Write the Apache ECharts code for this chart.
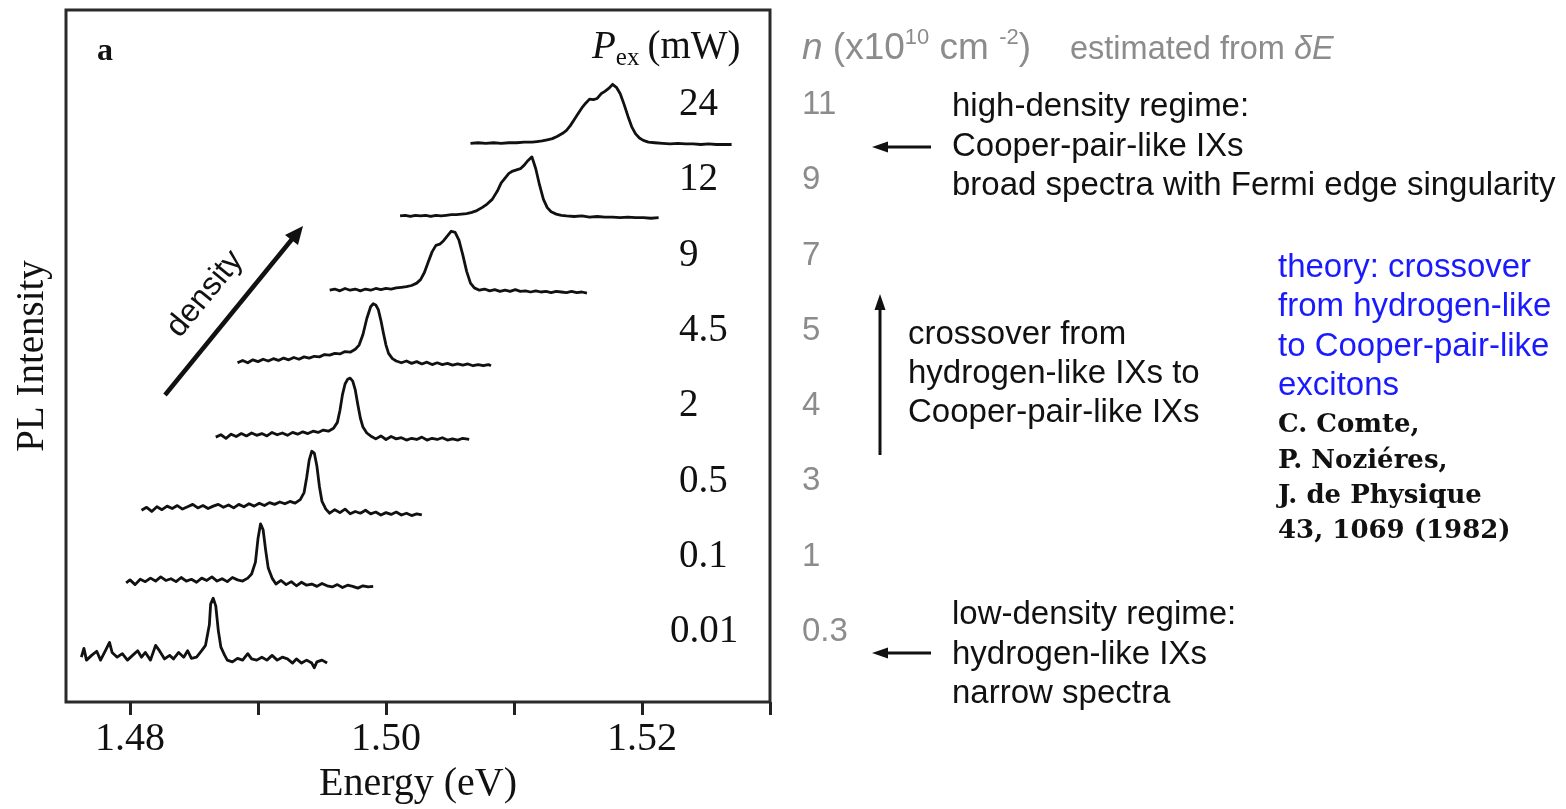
<!DOCTYPE html>
<html><head><meta charset="utf-8">
<script src="https://cdn.jsdelivr.net/npm/echarts@6/dist/echarts.min.js"></script>
<style>html,body{margin:0;padding:0;background:#fff}#c{width:1566px;height:809px}</style>
</head><body><div id="c"></div>
<script>
// ---- data (energy in eV, PL intensity normalised to peak = 1) ----
const energyTicks = [1.48, 1.49, 1.50, 1.51, 1.52, 1.53];
const energyLabels = [1.48, 1.50, 1.52];
const powers = ['0.01', '0.1', '0.5', '2', '4.5', '9', '12', '24'];
const densities = ['0.3', '1', '3', '4', '5', '7', '9', '11'];
const offsets = [0.76, 2.02, 3.25, 4.49, 5.75, 6.98, 8.24, 9.47];

const spec001 = [[1.4762,0],[1.4764,0.15],[1.4766,-0.05],[1.4770,0.03],[1.4774,0.1],[1.4777,-0.05],[1.4781,0.12],[1.4784,0.25],[1.4786,0.08],[1.4790,0],[1.4794,0.06],[1.4798,-0.05],[1.4802,0.03],[1.4806,0.11],[1.4809,0],[1.4812,0.08],[1.4816,-0.05],[1.4820,0.2],[1.4823,0.11],[1.4827,-0.03],[1.4831,0.03],[1.4834,-0.03],[1.4838,0.08],[1.4842,0],[1.4845,0.11],[1.4848,-0.02],[1.4852,0],[1.4856,0.11],[1.4859,0.2],[1.4862,0.55],[1.4863,0.9],[1.4865,1.0],[1.4867,0.87],[1.4869,0.45],[1.4871,0.17],[1.4874,0.03],[1.4876,-0.05],[1.4880,-0.08],[1.4884,-0.02],[1.4888,-0.05],[1.4892,0.06],[1.4895,-0.03],[1.4899,-0.05],[1.4903,0],[1.4907,-0.05],[1.4911,0.03],[1.4915,-0.05],[1.4919,0],[1.4923,-0.03],[1.4927,-0.1],[1.4930,-0.03],[1.4934,-0.1],[1.4938,-0.05],[1.4942,-0.1],[1.4944,-0.18],[1.4946,-0.08],[1.4950,-0.05],[1.4954,-0.1]];
const spec01 = [[1.4797,0],[1.4800,0.05],[1.4804,-0.03],[1.4808,0.06],[1.4812,0.02],[1.4816,0.08],[1.4820,0.03],[1.4824,0.1],[1.4828,0.04],[1.4832,0.07],[1.4836,0.02],[1.4840,0.09],[1.4844,0.03],[1.4848,0.06],[1.4852,0.01],[1.4856,0.08],[1.4860,0.04],[1.4864,0.1],[1.4868,0.03],[1.4872,0.07],[1.4876,0.02],[1.4880,0.09],[1.4884,0.05],[1.4888,0.03],[1.4892,0.08],[1.4895,0.15],[1.4898,0.35],[1.4900,0.75],[1.4902,1.0],[1.4904,0.9],[1.4906,0.55],[1.4908,0.25],[1.4911,0.08],[1.4914,-0.02],[1.4918,0.04],[1.4922,-0.03],[1.4926,0.02],[1.4930,-0.05],[1.4934,0.01],[1.4938,-0.04],[1.4942,-0.02],[1.4946,-0.06],[1.4950,-0.01],[1.4954,-0.05],[1.4958,-0.07],[1.4962,-0.03],[1.4966,-0.08],[1.4970,-0.04],[1.4974,-0.06],[1.4978,-0.09],[1.4982,-0.05],[1.4986,-0.07],[1.4990,-0.06]];
const spec05 = [[1.4809,0],[1.4813,0.05],[1.4817,-0.02],[1.4821,0.06],[1.4825,0.01],[1.4829,0.07],[1.4833,0.03],[1.4837,0.08],[1.4841,0.02],[1.4845,0.06],[1.4849,0.1],[1.4853,0.04],[1.4857,0.08],[1.4861,0.03],[1.4865,0.07],[1.4869,0.1],[1.4873,0.05],[1.4877,0.09],[1.4881,0.04],[1.4885,0.1],[1.4889,0.06],[1.4893,0.11],[1.4897,0.07],[1.4901,0.12],[1.4905,0.08],[1.4909,0.13],[1.4913,0.1],[1.4917,0.14],[1.4921,0.11],[1.4925,0.15],[1.4929,0.12],[1.4933,0.18],[1.4936,0.3],[1.4938,0.55],[1.4940,0.85],[1.4942,1.0],[1.4944,0.97],[1.4946,0.75],[1.4948,0.4],[1.4950,0.15],[1.4953,0.02],[1.4956,-0.05],[1.4960,0.01],[1.4964,-0.04],[1.4968,0.02],[1.4972,-0.06],[1.4976,-0.02],[1.4980,-0.05],[1.4984,0.0],[1.4988,-0.06],[1.4992,-0.03],[1.4996,-0.08],[1.5000,-0.04],[1.5004,-0.07],[1.5008,-0.03],[1.5012,-0.08],[1.5016,-0.05],[1.5020,-0.09],[1.5024,-0.06],[1.5028,-0.08]];
const spec2 = [[1.4867,0],[1.4871,0.04],[1.4875,-0.02],[1.4879,0.05],[1.4883,0.01],[1.4887,0.06],[1.4891,0.02],[1.4895,0.07],[1.4899,0.03],[1.4903,0.06],[1.4907,0.02],[1.4911,0.08],[1.4915,0.04],[1.4919,0.07],[1.4923,0.03],[1.4927,0.08],[1.4931,0.05],[1.4935,0.09],[1.4939,0.06],[1.4943,0.1],[1.4947,0.08],[1.4951,0.12],[1.4955,0.1],[1.4959,0.15],[1.4962,0.25],[1.4964,0.45],[1.4966,0.72],[1.4968,0.9],[1.4970,0.98],[1.4972,1.0],[1.4974,0.95],[1.4976,0.8],[1.4978,0.55],[1.4980,0.32],[1.4982,0.17],[1.4985,0.07],[1.4988,0.02],[1.4992,-0.03],[1.4996,0.02],[1.5000,-0.04],[1.5004,0.01],[1.5008,-0.03],[1.5012,-0.01],[1.5016,-0.05],[1.5020,-0.02],[1.5024,-0.04],[1.5028,0.0],[1.5032,-0.05],[1.5036,-0.02],[1.5040,-0.04],[1.5044,-0.01],[1.5048,-0.05],[1.5052,-0.03],[1.5056,-0.05],[1.5060,-0.02],[1.5065,-0.04]];
const spec45 = [[1.4884,0],[1.4888,0.04],[1.4892,0.0],[1.4896,0.05],[1.4900,0.02],[1.4904,0.06],[1.4908,0.03],[1.4912,0.07],[1.4916,0.04],[1.4920,0.08],[1.4924,0.05],[1.4928,0.09],[1.4932,0.06],[1.4936,0.1],[1.4940,0.08],[1.4944,0.11],[1.4948,0.1],[1.4952,0.14],[1.4956,0.13],[1.4960,0.16],[1.4964,0.15],[1.4968,0.19],[1.4972,0.18],[1.4976,0.23],[1.4979,0.3],[1.4982,0.48],[1.4985,0.75],[1.4988,0.95],[1.4990,1.0],[1.4992,0.98],[1.4994,0.9],[1.4996,0.72],[1.4998,0.5],[1.5000,0.3],[1.5002,0.16],[1.5005,0.07],[1.5008,0.03],[1.5012,0.0],[1.5016,0.03],[1.5020,-0.01],[1.5024,0.02],[1.5028,-0.02],[1.5032,0.01],[1.5036,-0.03],[1.5040,0.0],[1.5044,-0.03],[1.5048,-0.01],[1.5052,-0.04],[1.5056,-0.02],[1.5060,-0.04],[1.5064,-0.02],[1.5068,-0.05],[1.5072,-0.03],[1.5076,-0.05],[1.5080,-0.03],[1.5082,-0.05]];
const spec9 = [[1.4956,0],[1.4960,0.02],[1.4964,-0.01],[1.4968,0.03],[1.4972,0.0],[1.4976,0.02],[1.4980,-0.01],[1.4984,0.02],[1.4988,0.0],[1.4992,0.03],[1.4996,0.01],[1.5000,0.03],[1.5004,0.02],[1.5008,0.04],[1.5012,0.05],[1.5016,0.06],[1.5020,0.08],[1.5024,0.12],[1.5027,0.18],[1.5030,0.3],[1.5033,0.48],[1.5036,0.65],[1.5039,0.76],[1.5042,0.78],[1.5045,0.84],[1.5048,0.92],[1.5051,1.0],[1.5054,0.98],[1.5057,0.85],[1.5060,0.6],[1.5063,0.32],[1.5066,0.12],[1.5069,0.04],[1.5073,0.0],[1.5077,0.02],[1.5081,-0.01],[1.5085,0.01],[1.5089,-0.02],[1.5093,0.0],[1.5097,-0.02],[1.5101,0.01],[1.5105,-0.02],[1.5109,-0.01],[1.5113,-0.03],[1.5117,-0.01],[1.5121,-0.03],[1.5125,-0.02],[1.5129,-0.04],[1.5133,-0.02],[1.5137,-0.03],[1.5141,-0.04],[1.5145,-0.02],[1.5149,-0.04],[1.5153,-0.03],[1.5157,-0.05]];
const spec12 = [[1.5011,0],[1.5015,0.01],[1.5019,-0.01],[1.5023,0.01],[1.5027,0.0],[1.5031,0.01],[1.5035,-0.01],[1.5039,0.01],[1.5043,0.0],[1.5047,0.01],[1.5051,0.02],[1.5055,0.02],[1.5059,0.03],[1.5063,0.04],[1.5067,0.06],[1.5071,0.09],[1.5075,0.14],[1.5079,0.2],[1.5083,0.28],[1.5087,0.42],[1.5090,0.56],[1.5093,0.64],[1.5096,0.72],[1.5099,0.76],[1.5102,0.78],[1.5105,0.8],[1.5108,0.86],[1.5111,0.94],[1.5114,1.0],[1.5117,0.8],[1.5120,0.52],[1.5123,0.28],[1.5126,0.14],[1.5129,0.07],[1.5133,0.03],[1.5137,0.01],[1.5141,0.0],[1.5147,-0.01],[1.5153,0.0],[1.5159,-0.02],[1.5165,-0.01],[1.5171,-0.02],[1.5177,-0.02],[1.5183,-0.03],[1.5189,-0.02],[1.5195,-0.03],[1.5201,-0.03],[1.5207,-0.04],[1.5213,-0.03]];
const spec24 = [[1.5066,0],[1.5072,0.01],[1.5078,0.0],[1.5084,0.01],[1.5090,0.0],[1.5096,0.01],[1.5102,0.01],[1.5108,0.02],[1.5114,0.02],[1.5118,0.03],[1.5122,0.04],[1.5126,0.06],[1.5130,0.08],[1.5134,0.12],[1.5138,0.17],[1.5141,0.22],[1.5144,0.3],[1.5147,0.4],[1.5150,0.5],[1.5153,0.6],[1.5156,0.68],[1.5159,0.75],[1.5162,0.74],[1.5165,0.76],[1.5168,0.84],[1.5171,0.88],[1.5174,0.93],[1.5177,1.0],[1.5180,0.95],[1.5183,0.84],[1.5186,0.66],[1.5189,0.46],[1.5192,0.28],[1.5195,0.16],[1.5198,0.09],[1.5201,0.05],[1.5205,0.02],[1.5210,0.01],[1.5216,0.0],[1.5222,-0.01],[1.5228,0.0],[1.5234,-0.01],[1.5240,-0.01],[1.5246,-0.02],[1.5252,-0.01],[1.5258,-0.02],[1.5264,-0.02],[1.5270,-0.02]];

// ---- rendering ----
const serif = '"Liberation Serif","Times New Roman",serif';
const sans = '"Liberation Sans",Arial,sans-serif';
const spectra = [spec001, spec01, spec05, spec2, spec45, spec9, spec12, spec24];
const chart = echarts.init(document.getElementById('c'), null, {renderer: 'canvas'});

const series = spectra.map((s, i) => ({
  type: 'line', name: powers[i],
  data: s.map(p => [p[0], p[1] + offsets[i]]),
  symbol: 'none', showSymbol: false, silent: true,
  lineStyle: {color: '#111', width: 2.8, join: 'round'}
}));

const rowY = i => 632 - i * 75.3;
const graphics = [];
// power labels inside the plot
powers.forEach((p, i) => graphics.push({type: 'text', x: p === '0.01' ? 670 : 679, y: rowY(i),
  style: {text: p, font: '39px ' + serif, fill: '#111', textAlign: 'left', textVerticalAlign: 'middle'}}));
// density column
densities.forEach((d, i) => graphics.push({type: 'text', x: 802, y: rowY(i),
  style: {text: d, font: '33px ' + sans, fill: '#8c8c8c', textAlign: 'left', textVerticalAlign: 'middle'}}));

const T = (text, x, y, font, fill) => ({type: 'text', x, y,
  style: {text, font, fill, textAlign: 'left', textVerticalAlign: 'middle'}});
const f33 = '33px ' + sans;
const fb = 'bold 26px "DejaVu Serif",serif';
graphics.push(
  T('high-density regime:', 952, 107, f33, '#111'),
  T('Cooper-pair-like IXs', 952, 147, f33, '#111'),
  T('broad spectra with Fermi edge singularity', 952, 186, f33, '#111'),
  T('crossover from', 908, 335, f33, '#111'),
  T('hydrogen-like IXs to', 908, 374, f33, '#111'),
  T('Cooper-pair-like IXs', 908, 413, f33, '#111'),
  T('low-density regime:', 952, 615, f33, '#111'),
  T('hydrogen-like IXs', 952, 655, f33, '#111'),
  T('narrow spectra', 952, 694, f33, '#111'),
  T('theory: crossover', 1278, 268, f33, '#1a1aff'),
  T('from hydrogen-like', 1278, 307, f33, '#1a1aff'),
  T('to Cooper-pair-like', 1278, 347, f33, '#1a1aff'),
  T('excitons', 1278, 386, f33, '#1a1aff'),
  T('C. Comte,', 1278, 425, fb, '#111'),
  T('P. Noziéres,', 1278, 461, fb, '#111'),
  T('J. de Physique', 1278, 496, fb, '#111'),
  T('43, 1069 (1982)', 1278, 531, fb, '#111'),
  T('a', 97, 52, 'bold 32px ' + serif, '#111'),
  {type: 'text', x: 592, y: 48, style: {
    text: '{i|P}{s|ex}{n|(mW)}', textAlign: 'left', textVerticalAlign: 'middle', fill: '#111',
    rich: {i: {fontFamily: serif, fontStyle: 'italic', fontSize: 39, lineHeight: 46, verticalAlign: 'middle'},
           s: {fontFamily: serif, fontSize: 25, verticalAlign: 'bottom', lineHeight: 46, padding: [0, 8, 0, 0]},
           n: {fontFamily: serif, fontSize: 39, lineHeight: 46, verticalAlign: 'middle'}}}},
  {type: 'text', x: 802, y: 49, style: {
    text: '{i|n}{g| (x10}{u|10}{g| cm }{u|-2}{g|)}', textAlign: 'left', textVerticalAlign: 'middle', fill: '#8c8c8c',
    rich: {i: {fontFamily: sans, fontStyle: 'italic', fontSize: 37, lineHeight: 44},
           g: {fontFamily: sans, fontSize: 37, lineHeight: 44},
           u: {fontFamily: sans, fontSize: 22, verticalAlign: 'top', lineHeight: 44}}}},
  {type: 'text', x: 1070, y: 50, style: {
    text: '{g|estimated from }{i|δE}', textAlign: 'left', textVerticalAlign: 'middle', fill: '#8c8c8c',
    rich: {g: {fontFamily: sans, fontSize: 32.5}, i: {fontFamily: sans, fontStyle: 'italic', fontSize: 32.5}}}},
  // density arrow
  {type: 'line', shape: {x1: 165, y1: 395, x2: 293, y2: 238}, style: {stroke: '#111', lineWidth: 4.5}},
  {type: 'polygon', shape: {points: [[303, 226], [298, 245], [285, 235]]}, style: {fill: '#111'}},
  {type: 'text', x: 205, y: 294, rotation: 50.6 * Math.PI / 180,
    style: {text: 'density', font: '32px ' + sans, fill: '#111', textAlign: 'center', textVerticalAlign: 'middle'}},
  // left arrows
  {type: 'line', shape: {x1: 884, y1: 147, x2: 931, y2: 147}, style: {stroke: '#111', lineWidth: 3}},
  {type: 'polygon', shape: {points: [[872, 147], [888, 141.5], [888, 152.5]]}, style: {fill: '#111'}},
  {type: 'line', shape: {x1: 884, y1: 653, x2: 931, y2: 653}, style: {stroke: '#111', lineWidth: 3}},
  {type: 'polygon', shape: {points: [[872, 653], [888, 647.5], [888, 658.5]]}, style: {fill: '#111'}},
  // vertical arrow
  {type: 'line', shape: {x1: 880, y1: 455, x2: 880, y2: 306}, style: {stroke: '#111', lineWidth: 3}},
  {type: 'polygon', shape: {points: [[880, 294], [874.5, 310], [885.5, 310]]}, style: {fill: '#111'}}
);

chart.setOption({
  animation: false,
  backgroundColor: '#fff',
  grid: {left: 66, right: 796, top: 10, bottom: 107, show: true, borderColor: '#2a2a2a', borderWidth: 3, backgroundColor: 'transparent'},
  xAxis: {
    type: 'value', min: 1.475, max: 1.53,
    axisLine: {show: false},
    axisTick: {show: true, customValues: energyTicks, length: 13, inside: false, lineStyle: {color: '#222', width: 3}},
    axisLabel: {customValues: energyLabels, formatter: v => v.toFixed(2), fontFamily: serif, fontSize: 40, color: '#111', margin: 17},
    splitLine: {show: false},
    name: 'Energy (eV)', nameLocation: 'middle', nameGap: 62,
    nameTextStyle: {fontFamily: serif, fontSize: 40, color: '#111'}
  },
  yAxis: {
    type: 'value', min: 0, max: 11.73,
    axisLine: {show: false}, axisTick: {show: false}, axisLabel: {show: false}, splitLine: {show: false},
    name: 'PL Intensity', nameLocation: 'middle', nameGap: 14,
    nameTextStyle: {fontFamily: serif, fontSize: 39, color: '#111'}
  },
  series,
  graphic: graphics
});
</script></body></html>
